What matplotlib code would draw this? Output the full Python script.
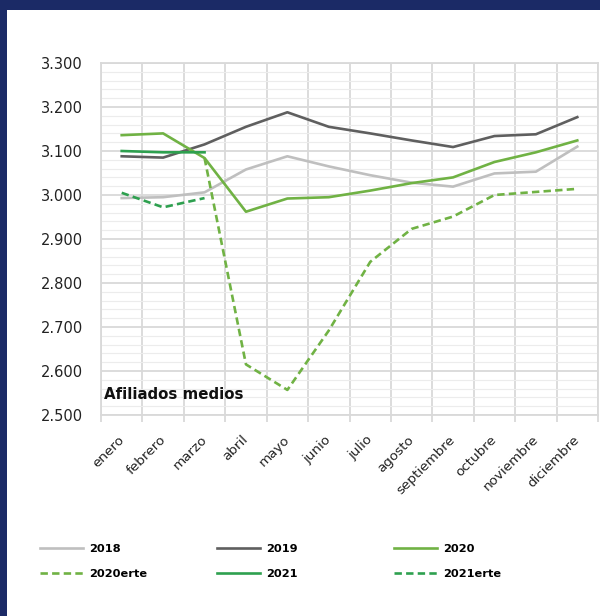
import numpy as np
import matplotlib
matplotlib.use('Agg')
import matplotlib.pyplot as plt
from matplotlib.patches import Rectangle
from matplotlib.transforms import ScaledTranslation
from matplotlib.ticker import MultipleLocator, FuncFormatter, FixedLocator

plt.rcParams['font.family'] = ['DejaVu Sans']

months = ['enero', 'febrero', 'marzo', 'abril', 'mayo', 'junio', 'julio',
          'agosto', 'septiembre', 'octubre', 'noviembre', 'diciembre']

# Afiliados medios, miles
afil_2018 = [2993, 2995, 3006, 3058, 3088, 3065, 3045, 3028, 3019, 3049, 3053, 3110]
afil_2019 = [3088, 3085, 3115, 3155, 3188, 3155, 3140, 3124, 3109, 3134, 3138, 3177]
afil_2020 = [3136, 3140, 3084, 2962, 2992, 2995, 3010, 3027, 3040, 3075, 3097, 3124]
afil_2020_erte = [None, None, 3084, 2615, 2557, 2692, 2848, 2923, 2951, 3000, 3007, 3014]
afil_2021 = [3100, 3097, 3097]
afil_2021_erte = [3005, 2972, 2993]

dash = (0, (2.8, 1.6))
series = [
    ('2018', afil_2018, '#bfbfbf', '-'),
    ('2019', afil_2019, '#5f5f5f', '-'),
    ('2020', afil_2020, '#70b244', '-'),
    ('2020erte', afil_2020_erte, '#70b244', dash),
    ('2021', afil_2021, '#2ea04f', '-'),
    ('2021erte', afil_2021_erte, '#2ea04f', dash),
]

fig = plt.figure(figsize=(6, 6.16), dpi=100, facecolor='#1b2a66')
# white panel inside the navy frame
fig.patches.append(Rectangle((7 / 600, 0), 1, 1 - 10 / 616, transform=fig.transFigure,
                             facecolor='white', edgecolor='none', zorder=-10))

ax = fig.add_axes([101 / 600, 1 - 415 / 616, 497 / 600, 352 / 616])
ax.set_facecolor('white')

x = np.arange(len(months))
handles = {}
for name, vals, color, ls in series:
    v = np.array([np.nan if y is None else y for y in vals], dtype=float)
    line, = ax.plot(x[:len(v)], v, color=color, linestyle=ls, linewidth=1.9,
                    label=name, zorder=3)
    handles[name] = line

ax.set_xlim(-0.5, 11.5)
ax.set_ylim(2500, 3300)

# y axis: majors every 100, minors every 20
ax.yaxis.set_major_locator(MultipleLocator(100))
ax.yaxis.set_minor_locator(MultipleLocator(20))
ax.yaxis.set_major_formatter(FuncFormatter(lambda v, p: f'{v:,.0f}'.replace(',', '.')))
ax.tick_params(axis='y', which='both', length=0, pad=13, labelsize=10.5, labelcolor='#222222')

# x axis: gridlines at category boundaries, labels at centres
ax.xaxis.set_major_locator(FixedLocator(np.arange(-0.5, 12, 1)))
ax.xaxis.set_major_formatter(FuncFormatter(lambda v, p: ''))
ax.xaxis.set_minor_locator(FixedLocator(x))
ax.set_xticklabels(months, minor=True, rotation=45, ha='right', va='top',
                   rotation_mode='default')
ax.tick_params(axis='x', which='major', length=5, color='#d9d9d9', width=1.3)
ax.tick_params(axis='x', which='minor', length=0, pad=13, labelsize=9.7, labelcolor='#222222')
shift = ScaledTranslation(5 / 100, 0, fig.dpi_scale_trans)
for lbl in ax.get_xticklabels(minor=True):
    lbl.set_transform(lbl.get_transform() + shift)

ax.grid(which='major', color='#d9d9d9', linewidth=1.3, zorder=1)
ax.grid(which='minor', axis='y', color='#ececec', linewidth=0.8, zorder=1)
ax.set_axisbelow(True)
for s in ax.spines.values():
    s.set_color('#d9d9d9')
    s.set_linewidth(1.3)

ax.text(0.006, 0.057, 'Afiliados medios', transform=ax.transAxes, fontsize=10.8,
        fontweight='bold', va='center', ha='left', color='#111111')

# legend: three columns, two rows
cols = [(['2018', '2020erte'], 40), (['2019', '2021'], 217), (['2020', '2021erte'], 394)]
for names, px in cols:
    leg = fig.legend([handles[n] for n in names], names, loc='upper left',
                     bbox_to_anchor=(px / 600, 1 - 544 / 616), frameon=False,
                     handlelength=3.8, handletextpad=0.55, labelspacing=1.3,
                     borderpad=0, borderaxespad=0, prop={'weight': 'bold', 'size': 8.2})

fig.savefig('out.png', dpi=100, facecolor=fig.get_facecolor())
